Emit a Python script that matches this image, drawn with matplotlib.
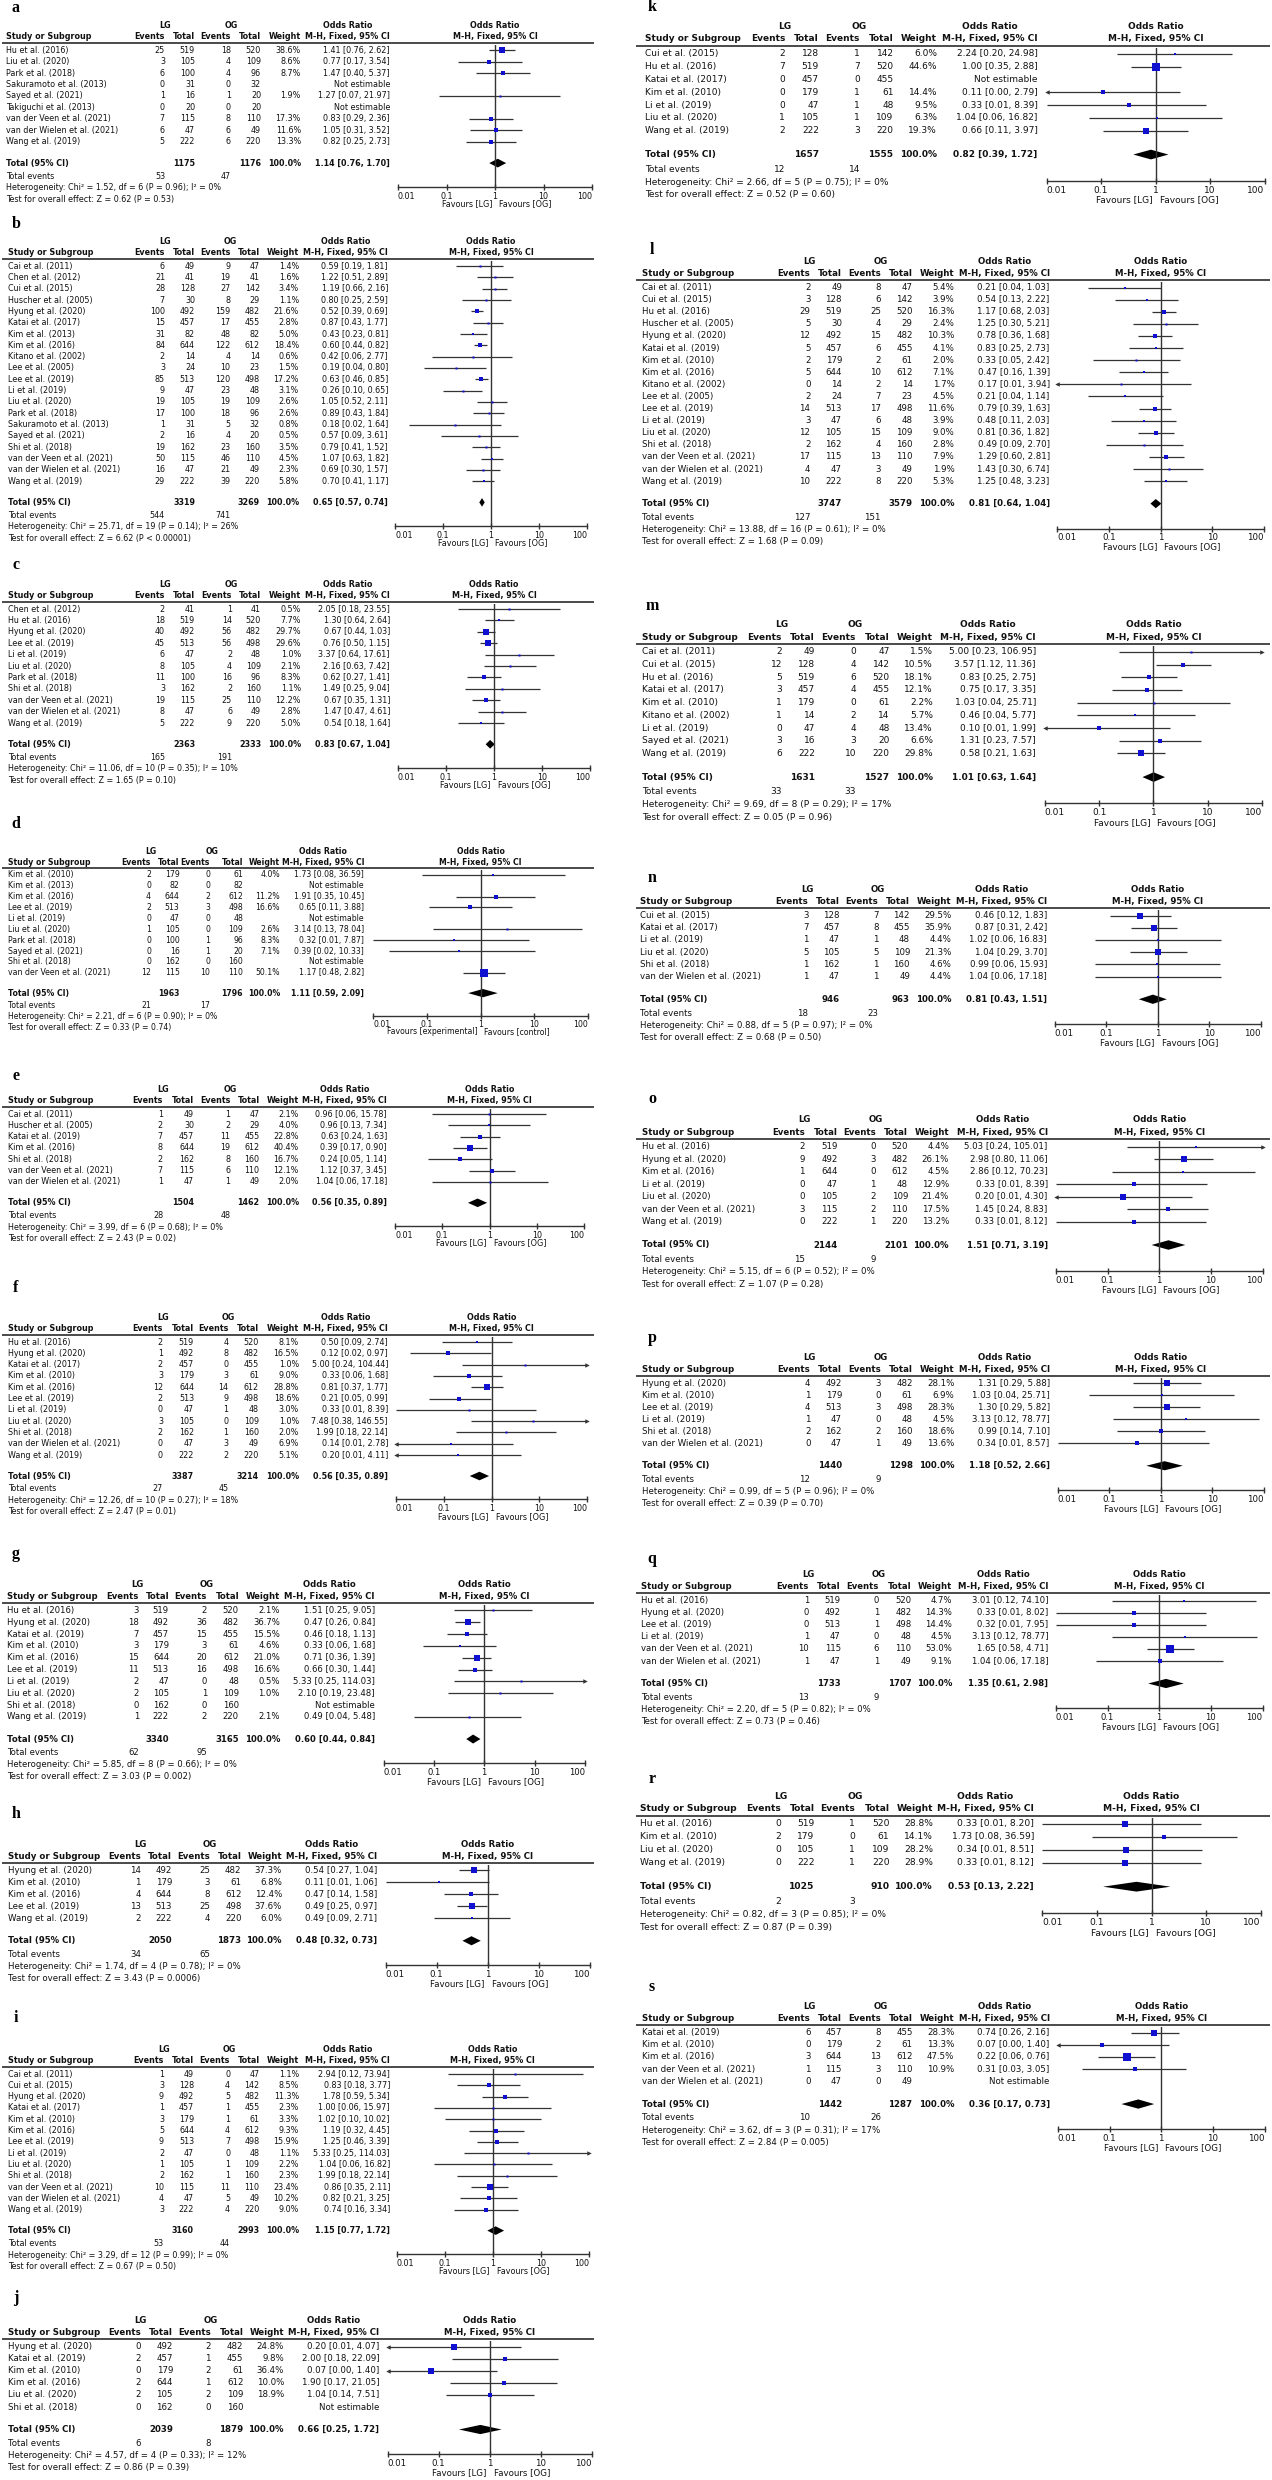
import numpy as np
import matplotlib
matplotlib.use("Agg")
import matplotlib.pyplot as plt
from matplotlib.ticker import NullLocator

plt.rcParams['font.family'] = ['DejaVu Sans']

# ---------------- data ----------------
# overall = [LG total, OG total, LG events, OG events, OR, lower, upper]
# stats = [Chi2, df, P(het), I2, Z, P(effect)]

a_study = ["Hu et al. (2016)", "Liu et al. (2020)", "Park et al. (2018)", "Sakuramoto et al. (2013)",
           "Sayed et al. (2021)", "Takiguchi et al. (2013)", "van der Veen et al. (2021)",
           "van der Wielen et al. (2021)", "Wang et al. (2019)"]
a_lg_events = [25, 3, 6, 0, 1, 0, 7, 6, 5]
a_lg_total = [519, 105, 100, 31, 16, 20, 115, 47, 222]
a_og_events = [18, 4, 4, 0, 1, 0, 8, 6, 6]
a_og_total = [520, 109, 96, 32, 20, 20, 110, 49, 220]
a_weight = [38.6, 8.6, 8.7, None, 1.9, None, 17.3, 11.6, 13.3]
a_or = [1.41, 0.77, 1.47, None, 1.27, None, 0.83, 1.05, 0.82]
a_lower = [0.76, 0.17, 0.40, None, 0.07, None, 0.29, 0.31, 0.25]
a_upper = [2.62, 3.54, 5.37, None, 21.97, None, 2.36, 3.52, 2.73]
a_overall = [1175, 1176, 53, 47, 1.14, 0.76, 1.70]
a_stats = [1.52, 6, "0.96", 0, 0.62, "0.53"]

b_study = ["Cai et al. (2011)", "Chen et al. (2012)", "Cui et al. (2015)", "Huscher et al. (2005)",
           "Hyung et al. (2020)", "Katai et al. (2017)", "Kim et al. (2013)", "Kim et al. (2016)",
           "Kitano et al. (2002)", "Lee et al. (2005)", "Lee et al. (2019)", "Li et al. (2019)",
           "Liu et al. (2020)", "Park et al. (2018)", "Sakuramoto et al. (2013)", "Sayed et al. (2021)",
           "Shi et al. (2018)", "van der Veen et al. (2021)", "van der Wielen et al. (2021)", "Wang et al. (2019)"]
b_lg_events = [6, 21, 28, 7, 100, 15, 31, 84, 2, 3, 85, 9, 19, 17, 1, 2, 19, 50, 16, 29]
b_lg_total = [49, 41, 128, 30, 492, 457, 82, 644, 14, 24, 513, 47, 105, 100, 31, 16, 162, 115, 47, 222]
b_og_events = [9, 19, 27, 8, 159, 17, 48, 122, 4, 10, 120, 23, 19, 18, 5, 4, 23, 46, 21, 39]
b_og_total = [47, 41, 142, 29, 482, 455, 82, 612, 14, 23, 498, 48, 109, 96, 32, 20, 160, 110, 49, 220]
b_weight = [1.4, 1.6, 3.4, 1.1, 21.6, 2.8, 5.0, 18.4, 0.6, 1.5, 17.2, 3.1, 2.6, 2.6, 0.8, 0.5, 3.5, 4.5, 2.3, 5.8]
b_or = [0.59, 1.22, 1.19, 0.80, 0.52, 0.87, 0.43, 0.60, 0.42, 0.19, 0.63, 0.26, 1.05, 0.89, 0.18, 0.57, 0.79, 1.07, 0.69, 0.70]
b_lower = [0.19, 0.51, 0.66, 0.25, 0.39, 0.43, 0.23, 0.44, 0.06, 0.04, 0.46, 0.10, 0.52, 0.43, 0.02, 0.09, 0.41, 0.63, 0.30, 0.41]
b_upper = [1.81, 2.89, 2.16, 2.59, 0.69, 1.77, 0.81, 0.82, 2.77, 0.80, 0.85, 0.65, 2.11, 1.84, 1.64, 3.61, 1.52, 1.82, 1.57, 1.17]
b_overall = [3319, 3269, 544, 741, 0.65, 0.57, 0.74]
b_stats = [25.71, 19, "0.14", 26, 6.62, "< 0.00001"]

c_study = ["Chen et al. (2012)", "Hu et al. (2016)", "Hyung et al. (2020)", "Lee et al. (2019)",
           "Li et al. (2019)", "Liu et al. (2020)", "Park et al. (2018)", "Shi et al. (2018)",
           "van der Veen et al. (2021)", "van der Wielen et al. (2021)", "Wang et al. (2019)"]
c_lg_events = [2, 18, 40, 45, 6, 8, 11, 3, 19, 8, 5]
c_lg_total = [41, 519, 492, 513, 47, 105, 100, 162, 115, 47, 222]
c_og_events = [1, 14, 56, 56, 2, 4, 16, 2, 25, 6, 9]
c_og_total = [41, 520, 482, 498, 48, 109, 96, 160, 110, 49, 220]
c_weight = [0.5, 7.7, 29.7, 29.6, 1.0, 2.1, 8.3, 1.1, 12.2, 2.8, 5.0]
c_or = [2.05, 1.30, 0.67, 0.76, 3.37, 2.16, 0.62, 1.49, 0.67, 1.47, 0.54]
c_lower = [0.18, 0.64, 0.44, 0.50, 0.64, 0.63, 0.27, 0.25, 0.35, 0.47, 0.18]
c_upper = [23.55, 2.64, 1.03, 1.15, 17.61, 7.42, 1.41, 9.04, 1.31, 4.61, 1.64]
c_overall = [2363, 2333, 165, 191, 0.83, 0.67, 1.04]
c_stats = [11.06, 10, "0.35", 10, 1.65, "0.10"]

d_study = ["Kim et al. (2010)", "Kim et al. (2013)", "Kim et al. (2016)", "Lee et al. (2019)",
           "Li et al. (2019)", "Liu et al. (2020)", "Park et al. (2018)", "Sayed et al. (2021)",
           "Shi et al. (2018)", "van der Veen et al. (2021)"]
d_lg_events = [2, 0, 4, 2, 0, 1, 0, 0, 0, 12]
d_lg_total = [179, 82, 644, 513, 47, 105, 100, 16, 162, 115]
d_og_events = [0, 0, 2, 3, 0, 0, 1, 1, 0, 10]
d_og_total = [61, 82, 612, 498, 48, 109, 96, 20, 160, 110]
d_weight = [4.0, None, 11.2, 16.6, None, 2.6, 8.3, 7.1, None, 50.1]
d_or = [1.73, None, 1.91, 0.65, None, 3.14, 0.32, 0.39, None, 1.17]
d_lower = [0.08, None, 0.35, 0.11, None, 0.13, 0.01, 0.02, None, 0.48]
d_upper = [36.59, None, 10.45, 3.88, None, 78.04, 7.87, 10.33, None, 2.82]
d_overall = [1963, 1796, 21, 17, 1.11, 0.59, 2.09]
d_stats = [2.21, 6, "0.90", 0, 0.33, "0.74"]
d_favours = ["Favours [experimental]", "Favours [control]"]

e_study = ["Cai et al. (2011)", "Huscher et al. (2005)", "Katai et al. (2019)", "Kim et al. (2016)",
           "Shi et al. (2018)", "van der Veen et al. (2021)", "van der Wielen et al. (2021)"]
e_lg_events = [1, 2, 7, 8, 2, 7, 1]
e_lg_total = [49, 30, 457, 644, 162, 115, 47]
e_og_events = [1, 2, 11, 19, 8, 6, 1]
e_og_total = [47, 29, 455, 612, 160, 110, 49]
e_weight = [2.1, 4.0, 22.8, 40.4, 16.7, 12.1, 2.0]
e_or = [0.96, 0.96, 0.63, 0.39, 0.24, 1.12, 1.04]
e_lower = [0.06, 0.13, 0.24, 0.17, 0.05, 0.37, 0.06]
e_upper = [15.78, 7.34, 1.63, 0.90, 1.14, 3.45, 17.18]
e_overall = [1504, 1462, 28, 48, 0.56, 0.35, 0.89]
e_stats = [3.99, 6, "0.68", 0, 2.43, "0.02"]

f_study = ["Hu et al. (2016)", "Hyung et al. (2020)", "Katai et al. (2017)", "Kim et al. (2010)",
           "Kim et al. (2016)", "Lee et al. (2019)", "Li et al. (2019)", "Liu et al. (2020)",
           "Shi et al. (2018)", "van der Wielen et al. (2021)", "Wang et al. (2019)"]
f_lg_events = [2, 1, 2, 3, 12, 2, 0, 3, 2, 0, 0]
f_lg_total = [519, 492, 457, 179, 644, 513, 47, 105, 162, 47, 222]
f_og_events = [4, 8, 0, 3, 14, 9, 1, 0, 1, 3, 2]
f_og_total = [520, 482, 455, 61, 612, 498, 48, 109, 160, 49, 220]
f_weight = [8.1, 16.5, 1.0, 9.0, 28.8, 18.6, 3.0, 1.0, 2.0, 6.9, 5.1]
f_or = [0.50, 0.12, 5.00, 0.33, 0.81, 0.21, 0.33, 7.48, 1.99, 0.14, 0.20]
f_lower = [0.09, 0.02, 0.24, 0.06, 0.37, 0.05, 0.01, 0.38, 0.18, 0.01, 0.01]
f_upper = [2.74, 0.97, 104.44, 1.68, 1.77, 0.99, 8.39, 146.55, 22.14, 2.78, 4.11]
f_overall = [3387, 3214, 27, 45, 0.56, 0.35, 0.89]
f_stats = [12.26, 10, "0.27", 18, 2.47, "0.01"]

g_study = ["Hu et al. (2016)", "Hyung et al. (2020)", "Katai et al. (2019)", "Kim et al. (2010)",
           "Kim et al. (2016)", "Lee et al. (2019)", "Li et al. (2019)", "Liu et al. (2020)",
           "Shi et al. (2018)", "Wang et al. (2019)"]
g_lg_events = [3, 18, 7, 3, 15, 11, 2, 2, 0, 1]
g_lg_total = [519, 492, 457, 179, 644, 513, 47, 105, 162, 222]
g_og_events = [2, 36, 15, 3, 20, 16, 0, 1, 0, 2]
g_og_total = [520, 482, 455, 61, 612, 498, 48, 109, 160, 220]
g_weight = [2.1, 36.7, 15.5, 4.6, 21.0, 16.6, 0.5, 1.0, None, 2.1]
g_or = [1.51, 0.47, 0.46, 0.33, 0.71, 0.66, 5.33, 2.10, None, 0.49]
g_lower = [0.25, 0.26, 0.18, 0.06, 0.36, 0.30, 0.25, 0.19, None, 0.04]
g_upper = [9.05, 0.84, 1.13, 1.68, 1.39, 1.44, 114.03, 23.48, None, 5.48]
g_overall = [3340, 3165, 62, 95, 0.60, 0.44, 0.84]
g_stats = [5.85, 8, "0.66", 0, 3.03, "0.002"]

h_study = ["Hyung et al. (2020)", "Kim et al. (2010)", "Kim et al. (2016)", "Lee et al. (2019)",
           "Wang et al. (2019)"]
h_lg_events = [14, 1, 4, 13, 2]
h_lg_total = [492, 179, 644, 513, 222]
h_og_events = [25, 3, 8, 25, 4]
h_og_total = [482, 61, 612, 498, 220]
h_weight = [37.3, 6.8, 12.4, 37.6, 6.0]
h_or = [0.54, 0.11, 0.47, 0.49, 0.49]
h_lower = [0.27, 0.01, 0.14, 0.25, 0.09]
h_upper = [1.04, 1.06, 1.58, 0.97, 2.71]
h_overall = [2050, 1873, 34, 65, 0.48, 0.32, 0.73]
h_stats = [1.74, 4, "0.78", 0, 3.43, "0.0006"]

i_study = ["Cai et al. (2011)", "Cui et al. (2015)", "Hyung et al. (2020)", "Katai et al. (2017)",
           "Kim et al. (2010)", "Kim et al. (2016)", "Lee et al. (2019)", "Li et al. (2019)",
           "Liu et al. (2020)", "Shi et al. (2018)", "van der Veen et al. (2021)",
           "van der Wielen et al. (2021)", "Wang et al. (2019)"]
i_lg_events = [1, 3, 9, 1, 3, 5, 9, 2, 1, 2, 10, 4, 3]
i_lg_total = [49, 128, 492, 457, 179, 644, 513, 47, 105, 162, 115, 47, 222]
i_og_events = [0, 4, 5, 1, 1, 4, 7, 0, 1, 1, 11, 5, 4]
i_og_total = [47, 142, 482, 455, 61, 612, 498, 48, 109, 160, 110, 49, 220]
i_weight = [1.1, 8.5, 11.3, 2.3, 3.3, 9.3, 15.9, 1.1, 2.2, 2.3, 23.4, 10.2, 9.0]
i_or = [2.94, 0.83, 1.78, 1.00, 1.02, 1.19, 1.25, 5.33, 1.04, 1.99, 0.86, 0.82, 0.74]
i_lower = [0.12, 0.18, 0.59, 0.06, 0.10, 0.32, 0.46, 0.25, 0.06, 0.18, 0.35, 0.21, 0.16]
i_upper = [73.94, 3.77, 5.34, 15.97, 10.02, 4.45, 3.39, 114.03, 16.82, 22.14, 2.11, 3.25, 3.34]
i_overall = [3160, 2993, 53, 44, 1.15, 0.77, 1.72]
i_stats = [3.29, 12, "0.99", 0, 0.67, "0.50"]

j_study = ["Hyung et al. (2020)", "Katai et al. (2019)", "Kim et al. (2010)", "Kim et al. (2016)",
           "Liu et al. (2020)", "Shi et al. (2018)"]
j_lg_events = [0, 2, 0, 2, 2, 0]
j_lg_total = [492, 457, 179, 644, 105, 162]
j_og_events = [2, 1, 2, 1, 2, 0]
j_og_total = [482, 455, 61, 612, 109, 160]
j_weight = [24.8, 9.8, 36.4, 10.0, 18.9, None]
j_or = [0.20, 2.00, 0.07, 1.90, 1.04, None]
j_lower = [0.01, 0.18, 0.00, 0.17, 0.14, None]
j_upper = [4.07, 22.09, 1.40, 21.05, 7.51, None]
j_overall = [2039, 1879, 6, 8, 0.66, 0.25, 1.72]
j_stats = [4.57, 4, "0.33", 12, 0.86, "0.39"]

k_study = ["Cui et al. (2015)", "Hu et al. (2016)", "Katai et al. (2017)", "Kim et al. (2010)",
           "Li et al. (2019)", "Liu et al. (2020)", "Wang et al. (2019)"]
k_lg_events = [2, 7, 0, 0, 0, 1, 2]
k_lg_total = [128, 519, 457, 179, 47, 105, 222]
k_og_events = [1, 7, 0, 1, 1, 1, 3]
k_og_total = [142, 520, 455, 61, 48, 109, 220]
k_weight = [6.0, 44.6, None, 14.4, 9.5, 6.3, 19.3]
k_or = [2.24, 1.00, None, 0.11, 0.33, 1.04, 0.66]
k_lower = [0.20, 0.35, None, 0.00, 0.01, 0.06, 0.11]
k_upper = [24.98, 2.88, None, 2.79, 8.39, 16.82, 3.97]
k_overall = [1657, 1555, 12, 14, 0.82, 0.39, 1.72]
k_stats = [2.66, 5, "0.75", 0, 0.52, "0.60"]

l_study = ["Cai et al. (2011)", "Cui et al. (2015)", "Hu et al. (2016)", "Huscher et al. (2005)",
           "Hyung et al. (2020)", "Katai et al. (2019)", "Kim et al. (2010)", "Kim et al. (2016)",
           "Kitano et al. (2002)", "Lee et al. (2005)", "Lee et al. (2019)", "Li et al. (2019)",
           "Liu et al. (2020)", "Shi et al. (2018)", "van der Veen et al. (2021)",
           "van der Wielen et al. (2021)", "Wang et al. (2019)"]
l_lg_events = [2, 3, 29, 5, 12, 5, 2, 5, 0, 2, 14, 3, 12, 2, 17, 4, 10]
l_lg_total = [49, 128, 519, 30, 492, 457, 179, 644, 14, 24, 513, 47, 105, 162, 115, 47, 222]
l_og_events = [8, 6, 25, 4, 15, 6, 2, 10, 2, 7, 17, 6, 15, 4, 13, 3, 8]
l_og_total = [47, 142, 520, 29, 482, 455, 61, 612, 14, 23, 498, 48, 109, 160, 110, 49, 220]
l_weight = [5.4, 3.9, 16.3, 2.4, 10.3, 4.1, 2.0, 7.1, 1.7, 4.5, 11.6, 3.9, 9.0, 2.8, 7.9, 1.9, 5.3]
l_or = [0.21, 0.54, 1.17, 1.25, 0.78, 0.83, 0.33, 0.47, 0.17, 0.21, 0.79, 0.48, 0.81, 0.49, 1.29, 1.43, 1.25]
l_lower = [0.04, 0.13, 0.68, 0.30, 0.36, 0.25, 0.05, 0.16, 0.01, 0.04, 0.39, 0.11, 0.36, 0.09, 0.60, 0.30, 0.48]
l_upper = [1.03, 2.22, 2.03, 5.21, 1.68, 2.73, 2.42, 1.39, 3.94, 1.14, 1.63, 2.03, 1.82, 2.70, 2.81, 6.74, 3.23]
l_overall = [3747, 3579, 127, 151, 0.81, 0.64, 1.04]
l_stats = [13.88, 16, "0.61", 0, 1.68, "0.09"]

m_study = ["Cai et al. (2011)", "Cui et al. (2015)", "Hu et al. (2016)", "Katai et al. (2017)",
           "Kim et al. (2010)", "Kitano et al. (2002)", "Li et al. (2019)", "Sayed et al. (2021)",
           "Wang et al. (2019)"]
m_lg_events = [2, 12, 5, 3, 1, 1, 0, 3, 6]
m_lg_total = [49, 128, 519, 457, 179, 14, 47, 16, 222]
m_og_events = [0, 4, 6, 4, 0, 2, 4, 3, 10]
m_og_total = [47, 142, 520, 455, 61, 14, 48, 20, 220]
m_weight = [1.5, 10.5, 18.1, 12.1, 2.2, 5.7, 13.4, 6.6, 29.8]
m_or = [5.00, 3.57, 0.83, 0.75, 1.03, 0.46, 0.10, 1.31, 0.58]
m_lower = [0.23, 1.12, 0.25, 0.17, 0.04, 0.04, 0.01, 0.23, 0.21]
m_upper = [106.95, 11.36, 2.75, 3.35, 25.71, 5.77, 1.99, 7.57, 1.63]
m_overall = [1631, 1527, 33, 33, 1.01, 0.63, 1.64]
m_stats = [9.69, 8, "0.29", 17, 0.05, "0.96"]

n_study = ["Cui et al. (2015)", "Katai et al. (2017)", "Li et al. (2019)", "Liu et al. (2020)",
           "Shi et al. (2018)", "van der Wielen et al. (2021)"]
n_lg_events = [3, 7, 1, 5, 1, 1]
n_lg_total = [128, 457, 47, 105, 162, 47]
n_og_events = [7, 8, 1, 5, 1, 1]
n_og_total = [142, 455, 48, 109, 160, 49]
n_weight = [29.5, 35.9, 4.4, 21.3, 4.6, 4.4]
n_or = [0.46, 0.87, 1.02, 1.04, 0.99, 1.04]
n_lower = [0.12, 0.31, 0.06, 0.29, 0.06, 0.06]
n_upper = [1.83, 2.42, 16.83, 3.70, 15.93, 17.18]
n_overall = [946, 963, 18, 23, 0.81, 0.43, 1.51]
n_stats = [0.88, 5, "0.97", 0, 0.68, "0.50"]

o_study = ["Hu et al. (2016)", "Hyung et al. (2020)", "Kim et al. (2016)", "Li et al. (2019)",
           "Liu et al. (2020)", "van der Veen et al. (2021)", "Wang et al. (2019)"]
o_lg_events = [2, 9, 1, 0, 0, 3, 0]
o_lg_total = [519, 492, 644, 47, 105, 115, 222]
o_og_events = [0, 3, 0, 1, 2, 2, 1]
o_og_total = [520, 482, 612, 48, 109, 110, 220]
o_weight = [4.4, 26.1, 4.5, 12.9, 21.4, 17.5, 13.2]
o_or = [5.03, 2.98, 2.86, 0.33, 0.20, 1.45, 0.33]
o_lower = [0.24, 0.80, 0.12, 0.01, 0.01, 0.24, 0.01]
o_upper = [105.01, 11.06, 70.23, 8.39, 4.30, 8.83, 8.12]
o_overall = [2144, 2101, 15, 9, 1.51, 0.71, 3.19]
o_stats = [5.15, 6, "0.52", 0, 1.07, "0.28"]

p_study = ["Hyung et al. (2020)", "Kim et al. (2010)", "Lee et al. (2019)", "Li et al. (2019)",
           "Shi et al. (2018)", "van der Wielen et al. (2021)"]
p_lg_events = [4, 1, 4, 1, 2, 0]
p_lg_total = [492, 179, 513, 47, 162, 47]
p_og_events = [3, 0, 3, 0, 2, 1]
p_og_total = [482, 61, 498, 48, 160, 49]
p_weight = [28.1, 6.9, 28.3, 4.5, 18.6, 13.6]
p_or = [1.31, 1.03, 1.30, 3.13, 0.99, 0.34]
p_lower = [0.29, 0.04, 0.29, 0.12, 0.14, 0.01]
p_upper = [5.88, 25.71, 5.82, 78.77, 7.10, 8.57]
p_overall = [1440, 1298, 12, 9, 1.18, 0.52, 2.66]
p_stats = [0.99, 5, "0.96", 0, 0.39, "0.70"]

q_study = ["Hu et al. (2016)", "Hyung et al. (2020)", "Lee et al. (2019)", "Li et al. (2019)",
           "van der Veen et al. (2021)", "van der Wielen et al. (2021)"]
q_lg_events = [1, 0, 0, 1, 10, 1]
q_lg_total = [519, 492, 513, 47, 115, 47]
q_og_events = [0, 1, 1, 0, 6, 1]
q_og_total = [520, 482, 498, 48, 110, 49]
q_weight = [4.7, 14.3, 14.4, 4.5, 53.0, 9.1]
q_or = [3.01, 0.33, 0.32, 3.13, 1.65, 1.04]
q_lower = [0.12, 0.01, 0.01, 0.12, 0.58, 0.06]
q_upper = [74.10, 8.02, 7.95, 78.77, 4.71, 17.18]
q_overall = [1733, 1707, 13, 9, 1.35, 0.61, 2.98]
q_stats = [2.20, 5, "0.82", 0, 0.73, "0.46"]

r_study = ["Hu et al. (2016)", "Kim et al. (2010)", "Liu et al. (2020)", "Wang et al. (2019)"]
r_lg_events = [0, 2, 0, 0]
r_lg_total = [519, 179, 105, 222]
r_og_events = [1, 0, 1, 1]
r_og_total = [520, 61, 109, 220]
r_weight = [28.8, 14.1, 28.2, 28.9]
r_or = [0.33, 1.73, 0.34, 0.33]
r_lower = [0.01, 0.08, 0.01, 0.01]
r_upper = [8.20, 36.59, 8.51, 8.12]
r_overall = [1025, 910, 2, 3, 0.53, 0.13, 2.22]
r_stats = [0.82, 3, "0.85", 0, 0.87, "0.39"]

s_study = ["Katai et al. (2019)", "Kim et al. (2010)", "Kim et al. (2016)", "van der Veen et al. (2021)",
           "van der Wielen et al. (2021)"]
s_lg_events = [6, 0, 3, 1, 0]
s_lg_total = [457, 179, 644, 115, 47]
s_og_events = [8, 2, 13, 3, 0]
s_og_total = [455, 61, 612, 110, 49]
s_weight = [28.3, 13.3, 47.5, 10.9, None]
s_or = [0.74, 0.07, 0.22, 0.31, None]
s_lower = [0.26, 0.00, 0.06, 0.03, None]
s_upper = [2.16, 1.40, 0.76, 3.05, None]
s_overall = [1442, 1287, 10, 26, 0.36, 0.17, 0.73]
s_stats = [3.62, 3, "0.31", 17, 2.84, "0.005"]

lg_og = ["Favours [LG]", "Favours [OG]"]


def panel(study, lge, lgn, oge, ogn, w, odds, lo, hi, overall, stats, favours=lg_og):
    return dict(study=study, lge=lge, lgn=lgn, oge=oge, ogn=ogn, w=w,
                odds=odds, lo=lo, hi=hi, overall=overall, stats=stats, favours=favours)


panels = {
    'a': panel(a_study, a_lg_events, a_lg_total, a_og_events, a_og_total, a_weight, a_or, a_lower, a_upper, a_overall, a_stats),
    'b': panel(b_study, b_lg_events, b_lg_total, b_og_events, b_og_total, b_weight, b_or, b_lower, b_upper, b_overall, b_stats),
    'c': panel(c_study, c_lg_events, c_lg_total, c_og_events, c_og_total, c_weight, c_or, c_lower, c_upper, c_overall, c_stats),
    'd': panel(d_study, d_lg_events, d_lg_total, d_og_events, d_og_total, d_weight, d_or, d_lower, d_upper, d_overall, d_stats, d_favours),
    'e': panel(e_study, e_lg_events, e_lg_total, e_og_events, e_og_total, e_weight, e_or, e_lower, e_upper, e_overall, e_stats),
    'f': panel(f_study, f_lg_events, f_lg_total, f_og_events, f_og_total, f_weight, f_or, f_lower, f_upper, f_overall, f_stats),
    'g': panel(g_study, g_lg_events, g_lg_total, g_og_events, g_og_total, g_weight, g_or, g_lower, g_upper, g_overall, g_stats),
    'h': panel(h_study, h_lg_events, h_lg_total, h_og_events, h_og_total, h_weight, h_or, h_lower, h_upper, h_overall, h_stats),
    'i': panel(i_study, i_lg_events, i_lg_total, i_og_events, i_og_total, i_weight, i_or, i_lower, i_upper, i_overall, i_stats),
    'j': panel(j_study, j_lg_events, j_lg_total, j_og_events, j_og_total, j_weight, j_or, j_lower, j_upper, j_overall, j_stats),
    'k': panel(k_study, k_lg_events, k_lg_total, k_og_events, k_og_total, k_weight, k_or, k_lower, k_upper, k_overall, k_stats),
    'l': panel(l_study, l_lg_events, l_lg_total, l_og_events, l_og_total, l_weight, l_or, l_lower, l_upper, l_overall, l_stats),
    'm': panel(m_study, m_lg_events, m_lg_total, m_og_events, m_og_total, m_weight, m_or, m_lower, m_upper, m_overall, m_stats),
    'n': panel(n_study, n_lg_events, n_lg_total, n_og_events, n_og_total, n_weight, n_or, n_lower, n_upper, n_overall, n_stats),
    'o': panel(o_study, o_lg_events, o_lg_total, o_og_events, o_og_total, o_weight, o_or, o_lower, o_upper, o_overall, o_stats),
    'p': panel(p_study, p_lg_events, p_lg_total, p_og_events, p_og_total, p_weight, p_or, p_lower, p_upper, p_overall, p_stats),
    'q': panel(q_study, q_lg_events, q_lg_total, q_og_events, q_og_total, q_weight, q_or, q_lower, q_upper, q_overall, q_stats),
    'r': panel(r_study, r_lg_events, r_lg_total, r_og_events, r_og_total, r_weight, r_or, r_lower, r_upper, r_overall, r_stats),
    's': panel(s_study, s_lg_events, s_lg_total, s_og_events, s_og_total, s_weight, s_or, s_lower, s_upper, s_overall, s_stats),
}

# ---------------- layout (pixels) ----------------
# cols = study x, LG events, LG total, OG events, OG total, weight, CI (right edges)
L = dict(line=(2, 594), label_x=16)
R = dict(line=(636, 1270), label_x=652)
layout = {
    'a': dict(L, cols=(6.5, 165, 195, 231, 261, 301, 390), axis=(398, 592), label_y=8, line_y=43, step=11.46, fs=5.8),
    'b': dict(L, cols=(8, 165, 195, 230.5, 260, 299, 388), axis=(395, 587), label_y=224, line_y=259, step=11.33, fs=5.75),
    'c': dict(L, cols=(8, 165, 195, 232, 261, 301, 390), axis=(398, 590), label_y=565, line_y=602, step=11.4, fs=5.8),
    'd': dict(L, cols=(8, 151, 179.5, 210, 243, 280, 364), axis=(373, 588), label_y=824, line_y=868, step=10.9, fs=5.6),
    'e': dict(L, cols=(8, 163, 194, 230.5, 259.5, 299, 387), axis=(395, 584), label_y=1076, line_y=1107, step=11.3, fs=5.75),
    'f': dict(L, cols=(8, 163, 194, 228.5, 259, 299, 388), axis=(396, 587), label_y=1288, line_y=1335, step=11.3, fs=5.75),
    'g': dict(L, cols=(7, 139, 169, 207, 239, 280, 375), axis=(383.5, 585), label_y=1554, line_y=1603, step=11.85, fs=6.1),
    'h': dict(L, cols=(8, 141, 172, 210, 241.5, 282, 377), axis=(385.5, 590), label_y=1814, line_y=1863, step=12.0, fs=6.2),
    'i': dict(L, cols=(8, 164, 194, 230, 259.5, 299, 390), axis=(396.5, 589), label_y=2018, line_y=2067, step=11.3, fs=5.75),
    'j': dict(L, cols=(8, 141, 173, 211, 243.5, 284, 379.5), axis=(387.6, 591.6), label_y=2298, line_y=2339, step=12.1, fs=6.2),
    'k': dict(R, cols=(645, 785, 819, 860, 893.5, 937, 1037.5), axis=(1046.5, 1264.7), label_y=7, line_y=46, step=12.8, fs=6.5),
    'l': dict(R, cols=(642.5, 810.4, 842, 881, 912.6, 954.4, 1049.7), axis=(1057, 1264), label_y=250, line_y=280, step=12.1, fs=6.2),
    'm': dict(R, cols=(642.5, 782, 815, 856, 889.5, 933, 1036), axis=(1044.8, 1262), label_y=606, line_y=644, step=12.7, fs=6.5),
    'n': dict(R, cols=(640, 808.4, 839.6, 878.5, 910, 951.6, 1047), axis=(1054.6, 1260.6), label_y=878, line_y=908, step=12.2, fs=6.25),
    'o': dict(R, cols=(642.5, 804.7, 837.6, 876, 908, 949, 1047.7), axis=(1055.8, 1262.7), label_y=1099, line_y=1139, step=12.5, fs=6.2),
    'p': dict(R, cols=(642.5, 810.4, 842, 881, 912.6, 954.4, 1049.7), axis=(1057.8, 1264), label_y=1338, line_y=1376, step=12.0, fs=6.2),
    'q': dict(R, cols=(641, 809, 840.8, 879, 911.4, 952, 1048.5), axis=(1055.8, 1262.7), label_y=1559, line_y=1593, step=12.1, fs=6.1),
    'r': dict(R, cols=(640, 781, 814.5, 855, 889.5, 933, 1034), axis=(1042.4, 1260.6), label_y=1779, line_y=1816, step=12.9, fs=6.55),
    's': dict(R, cols=(642.5, 810.4, 842, 881, 912.6, 954.4, 1049.7), axis=(1057.8, 1264.7), label_y=1987, line_y=2025, step=12.2, fs=6.2),
}

W, H = 1272, 2480
fig = plt.figure(figsize=(W / 100, H / 100), dpi=100)
fig.patch.set_facecolor('white')
canvas = fig.add_axes([0, 0, 1, 1])
canvas.set_xlim(0, W)
canvas.set_ylim(H, 0)
canvas.axis('off')
renderer = fig.canvas.get_renderer()

INK = '#111111'
LINE = '#333333'
BLUE = '#1010d0'


def width(t):
    return t.get_window_extent(renderer=renderer).width


def ci_text(o, lo, hi):
    return f"{o:.2f} [{lo:.2f}, {hi:.2f}]"


def draw(key, p, lay):
    xs, c_lev, c_ltot, c_oev, c_otot, c_w, c_ci = lay['cols']
    a0, a1 = lay['axis']
    l0, l1 = lay['line']
    ly, s, fs = lay['line_y'], lay['step'], lay['fs']
    n = len(p['study'])
    rows = ly + 0.62 * s + s * np.arange(n)
    y_tot = rows[-1] + 1.86 * s
    y_ev = y_tot + 1.14 * s
    y_het = y_ev + 1.02 * s
    y_test = y_het + 1.0 * s
    y_ax = y_het - 0.1 * s
    x_one = (a0 + a1) / 2

    txt = dict(fontsize=fs, va='center', color=INK)
    bold = dict(txt, fontweight='bold')

    canvas.text(lay['label_x'], lay['label_y'], key, family='Liberation Serif',
                fontweight='bold', fontsize=11.5, ha='center', va='center', color='black')

    # header
    y1, y2 = ly - 1.55 * s, ly - 0.55 * s
    canvas.text(xs, y2, "Study or Subgroup", ha='left', **bold)
    t = canvas.text(c_lev, y2, "Events", ha='right', **bold)
    canvas.text(c_ltot, y2, "Total", ha='right', **bold)
    canvas.text((c_lev - width(t) + c_ltot) / 2, y1, "LG", ha='center', **bold)
    t = canvas.text(c_oev, y2, "Events", ha='right', **bold)
    canvas.text(c_otot, y2, "Total", ha='right', **bold)
    canvas.text((c_oev - width(t) + c_otot) / 2, y1, "OG", ha='center', **bold)
    canvas.text(c_w, y2, "Weight", ha='right', **bold)
    t = canvas.text(c_ci, y2, "M-H, Fixed, 95% CI", ha='right', **bold)
    canvas.text(c_ci - width(t) / 2, y1, "Odds Ratio", ha='center', **bold)
    canvas.text(x_one, y1, "Odds Ratio", ha='center', **bold)
    canvas.text(x_one, y2, "M-H, Fixed, 95% CI", ha='center', **bold)
    canvas.plot([l0, l1], [ly, ly], color='#4a4a4a', lw=1.4, solid_capstyle='butt')

    # study rows
    for k in range(n):
        y = rows[k]
        canvas.text(xs, y, p['study'][k], ha='left', **txt)
        canvas.text(c_lev, y, str(p['lge'][k]), ha='right', **txt)
        canvas.text(c_ltot, y, str(p['lgn'][k]), ha='right', **txt)
        canvas.text(c_oev, y, str(p['oge'][k]), ha='right', **txt)
        canvas.text(c_otot, y, str(p['ogn'][k]), ha='right', **txt)
        if p['odds'][k] is None:
            canvas.text(c_ci, y, "Not estimable", ha='right', **txt)
        else:
            canvas.text(c_w, y, f"{p['w'][k]:.1f}%", ha='right', **txt)
            canvas.text(c_ci, y, ci_text(p['odds'][k], p['lo'][k], p['hi'][k]), ha='right', **txt)

    # totals
    ltot, otot, lev, oev, o_all, lo_all, hi_all = p['overall']
    chi, df, p_het, i2, z, p_z = p['stats']
    canvas.text(xs, y_tot, "Total (95% CI)", ha='left', **bold)
    canvas.text(c_ltot, y_tot, str(ltot), ha='right', **bold)
    canvas.text(c_otot, y_tot, str(otot), ha='right', **bold)
    canvas.text(c_w, y_tot, "100.0%", ha='right', **bold)
    canvas.text(c_ci, y_tot, ci_text(o_all, lo_all, hi_all), ha='right', **bold)
    canvas.text(xs, y_ev, "Total events", ha='left', **txt)
    canvas.text(c_lev, y_ev, str(lev), ha='right', **txt)
    canvas.text(c_oev, y_ev, str(oev), ha='right', **txt)
    pz = f"P {p_z}" if p_z.startswith('<') else f"P = {p_z}"
    canvas.text(xs, y_het, f"Heterogeneity: Chi\u00b2 = {chi:.2f}, df = {df} (P = {p_het}); I\u00b2 = {i2}%",
                ha='left', **txt)
    canvas.text(xs, y_test, f"Test for overall effect: Z = {z:.2f} ({pz})", ha='left', **txt)

    # forest plot axes
    top = ly + 2
    fx = fig.add_axes([a0 / W, 1 - y_ax / H, (a1 - a0) / W, (y_ax - top) / H])
    fx.patch.set_alpha(0)
    fx.set_xscale('log')
    fx.set_xlim(0.01, 100)
    fx.set_ylim(y_ax, top)
    for side in ['top', 'right', 'left']:
        fx.spines[side].set_visible(False)
    fx.spines['bottom'].set_color(LINE)
    fx.spines['bottom'].set_linewidth(1.0)
    fx.set_xticks([0.01, 0.1, 1, 10, 100])
    fx.set_xticklabels(['0.01', '0.1', '1', '10', '100'])
    fx.xaxis.set_minor_locator(NullLocator())
    fx.set_yticks([])
    fx.tick_params(axis='x', direction='inout', length=5, width=1.0, color=LINE,
                   labelsize=fs, labelcolor=INK, pad=1.0)
    labels = fx.get_xticklabels()
    labels[0].set_ha('left')
    labels[-1].set_ha('right')
    fx.axvline(1, color=LINE, lw=1.0)

    scale = 1.05 * s / 11.4
    for k in range(n):
        o = p['odds'][k]
        if o is None:
            continue
        lo, hi, y = p['lo'][k], p['hi'][k], rows[k]
        lo_c = max(lo, 0.01)
        hi_c = min(hi, 100)
        fx.plot([lo_c, hi_c], [y, y], color=LINE, lw=0.9, clip_on=False, solid_capstyle='butt')
        if lo < 0.01 or o * o / hi < 0.01:
            fx.plot(0.01, y, marker='<', ms=3.2, color=LINE, mew=0, clip_on=False)
        if hi > 100:
            fx.plot(100, y, marker='>', ms=3.2, color=LINE, mew=0, clip_on=False)
        side_px = max(np.sqrt(p['w'][k]) * scale, 2.0)
        fx.plot(o, y, marker='s', ms=side_px / 1.389, color=BLUE, mew=0, clip_on=False)

    h = 0.38 * s
    fx.fill([lo_all, o_all, hi_all, o_all], [y_tot, y_tot - h, y_tot, y_tot + h],
            color='black', lw=0, clip_on=False)

    fav = p['favours']
    canvas.text(x_one - 3, y_ax + 1.5 * s, fav[0], ha='right', **txt)
    canvas.text(x_one + 4, y_ax + 1.5 * s, fav[1], ha='left', **txt)


for key in panels:
    draw(key, panels[key], layout[key])

fig.savefig('out.png', dpi=100, facecolor='white')
